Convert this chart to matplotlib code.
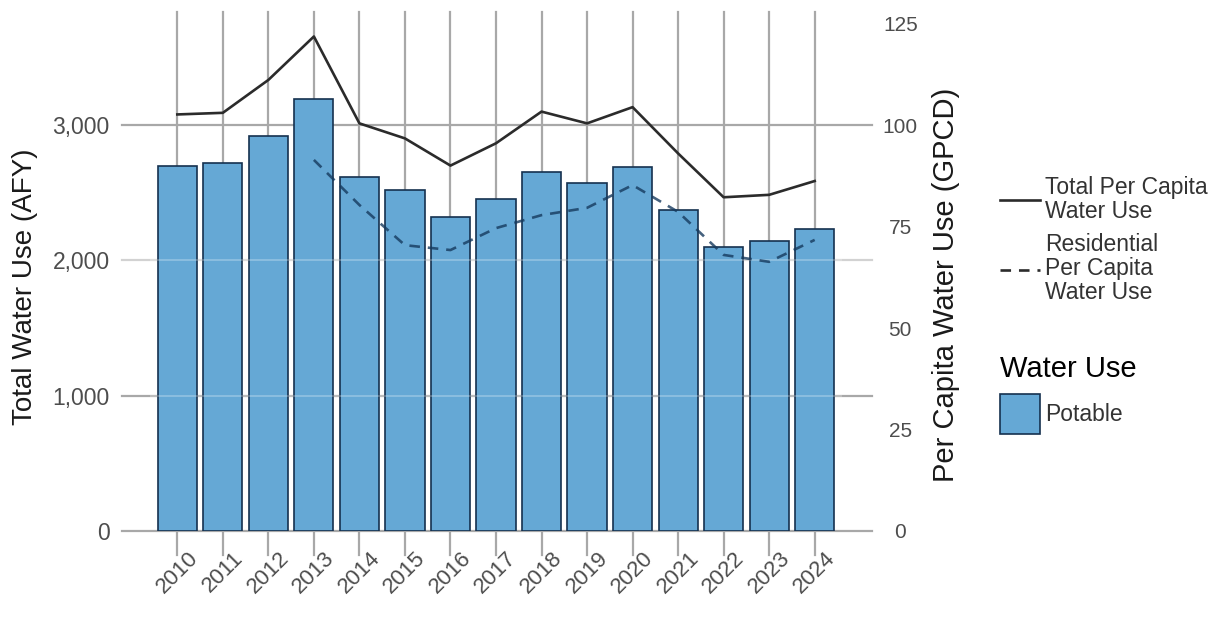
import numpy as np
import matplotlib
matplotlib.use('Agg')
import matplotlib.pyplot as plt
from matplotlib.lines import Line2D
from matplotlib.patches import Patch

plt.rcParams['font.family'] = ['Liberation Sans', 'DejaVu Sans']

years = ['2010', '2011', '2012', '2013', '2014', '2015', '2016', '2017',
         '2018', '2019', '2020', '2021', '2022', '2023', '2024']
# total water use, acre-feet per year
potable_afy = [2700, 2717, 2921, 3194, 2618, 2520, 2320, 2455,
               2655, 2574, 2687, 2370, 2101, 2145, 2229]
# gallons per capita per day
total_gpcd = [102.6, 103.0, 111.1, 121.8, 100.4, 96.7, 90.0, 95.5,
              103.3, 100.4, 104.4, 93.0, 82.2, 82.8, 86.2]
res_years = ['2013', '2014', '2015', '2016', '2017', '2018', '2019',
             '2020', '2021', '2022', '2023', '2024']
res_gpcd = [91.4, 80.3, 70.4, 69.2, 74.6, 77.8, 79.6, 85.2, 78.6,
            68.0, 66.3, 71.7]

left_ticks = [0, 1000, 2000, 3000]
left_labels = ['0', '1,000', '2,000', '3,000']
right_ticks = [0, 25, 50, 75, 100, 125]

bar_col = '#65a8d5'
edge_col = '#15314f'
grid_col = '#a8a8a8'

W, H = 1220, 624
fig = plt.figure(figsize=(W / 100, H / 100), dpi=100)
ax = fig.add_axes([150 / W, (H - 531) / H, (842 - 150) / W, (531 - 12) / H])
ax2 = ax.twinx()

x = np.arange(len(years))
xr = np.array([years.index(y) for y in res_years])

# vertical guide lines (run below the panel like long ticks)
for xi in x:
    ax.axvline(xi, ymin=-0.046, ymax=1, color=grid_col, lw=1.6,
               clip_on=False, zorder=0)
# horizontal guide lines, sticking out on both sides
for t in left_ticks:
    c = '#d2d2d2' if t == 2000 else grid_col
    ax.axhline(t, xmin=-0.04, xmax=1.043, color=c, lw=1.6,
               clip_on=False, zorder=0)

ax.bar(x, potable_afy, width=0.86, color=bar_col,
       edgecolor=edge_col, linewidth=1.2, zorder=2)
# guide lines faintly showing through the bars
for t in [1000, 2000]:
    ax.axhline(t, color='white', lw=1.4, alpha=0.25, zorder=2.5)

ax2.plot(x, total_gpcd, color='#2b2b2b', lw=1.9, zorder=3)
ax2.plot(xr, res_gpcd, color='#163a5e', alpha=0.8, lw=1.9,
         linestyle=(0, (4, 3)), zorder=3)

ax.set_xlim(-0.6, len(years) - 0.4)
ax.set_ylim(0, 3835)
ax2.set_ylim(0, 3835 / 30)

for a in (ax, ax2):
    for s in a.spines.values():
        s.set_visible(False)

ax.set_xticks(x)
ax.set_xticklabels(years, rotation=45, ha='center', va='top')
ax.tick_params(axis='x', length=0, pad=12, labelsize=16,
               labelcolor='#4d4d4d')

ax.set_yticks(left_ticks)
ax.set_yticklabels(left_labels)
ax.tick_params(axis='y', length=0, pad=29, labelsize=16.5,
               labelcolor='#4d4d4d')
ax.set_ylabel('Total Water Use (AFY)', fontsize=20, color='#1a1a1a')
ax.yaxis.set_label_coords((38 - 150) / 692, 0.47)

ax2.set_yticks(right_ticks)
ax2.tick_params(axis='y', length=0, pad=42, labelsize=15,
                labelcolor='#4d4d4d')
for lbl in ax2.get_yticklabels():
    lbl.set_ha('center')
ax2.set_ylabel('Per Capita Water Use (GPCD)', fontsize=21, color='#1a1a1a')
ax2.yaxis.set_label_coords((932 - 150) / 692, 0.475)

line_handles = [
    Line2D([], [], color='#2b2b2b', lw=1.9),
    Line2D([], [], color='#2b2b2b', lw=1.9, linestyle=(0, (4, 3))),
]
leg1 = fig.legend(line_handles,
                  ['Total Per Capita\nWater Use',
                   'Residential\nPer Capita\nWater Use'],
                  loc='upper left', bbox_to_anchor=(1000 / W, 1 - 176 / H),
                  frameon=False, fontsize=16.5, handlelength=1.75,
                  handletextpad=0.2, labelspacing=0.45, borderpad=0,
                  borderaxespad=0)
for t in leg1.get_texts():
    t.set_linespacing(1.05)
    t.set_color('#333333')

leg2 = fig.legend([Patch(facecolor=bar_col, edgecolor=edge_col,
                         linewidth=1.2)],
                  ['Potable'], title='Water Use',
                  loc='upper left', bbox_to_anchor=(1000 / W, 1 - 355 / H),
                  frameon=False, fontsize=16.5, title_fontsize=21,
                  handlelength=1.75, handleheight=2.25, handletextpad=0.2,
                  borderpad=0, borderaxespad=0, alignment='left')
leg2.get_texts()[0].set_color('#333333')

fig.savefig('out.png', dpi=100)
